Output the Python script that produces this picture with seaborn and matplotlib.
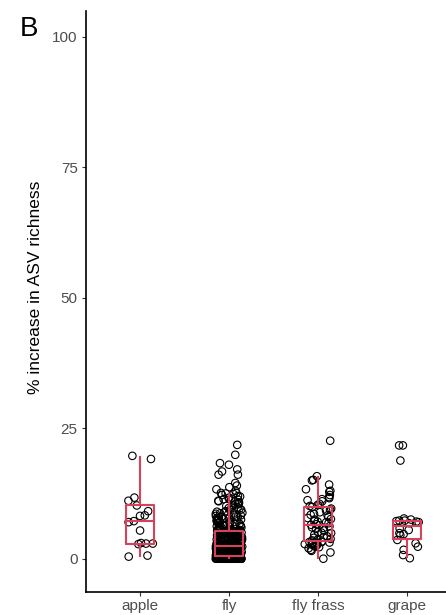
import numpy as np
import pandas as pd
import matplotlib
matplotlib.use("Agg")
import matplotlib.pyplot as plt
import seaborn as sns

# Sample types along the x axis
categories = ["apple", "fly", "fly frass", "grape"]

# % increase in ASV richness per sample, grouped by sample type
apple_vals = [0.4, 0.6, 2.8, 2.9, 2.9, 3.0, 5.4, 7.0, 7.2, 8.2, 8.3, 9.1,
              10.2, 11.1, 11.7, 19.1, 19.7]

fly_vals = [
    0.0, 0.0, 0.0, 0.0, 0.0, 0.0, 0.0, 0.0, 0.0, 0.0,
    0.0, 0.0, 0.0, 0.0, 0.0, 0.0, 0.0, 0.0, 0.0, 0.0,
    0.0, 0.0, 0.0, 0.0, 0.0, 0.0, 0.0, 0.0, 0.0, 0.0,
    0.0, 0.0, 0.0, 0.0, 0.0, 0.0, 0.0, 0.0, 0.0, 0.0,
    0.0, 0.0, 0.0, 0.0, 0.0, 0.0, 0.0, 0.0, 0.0, 0.0,
    0.0, 0.0, 0.0,
    0.1, 0.1, 0.1, 0.2, 0.2, 0.2, 0.2, 0.2, 0.3, 0.3, 0.3,
    0.3, 0.3, 0.3, 0.4, 0.4, 0.4, 0.4, 0.4, 0.4, 0.4, 0.4,
    0.1, 0.1, 0.2, 0.2, 0.3, 0.3, 0.3, 0.4, 0.4, 0.4, 0.4, 0.4,
    0.5, 0.5, 0.5, 0.6, 0.6, 0.7, 0.7, 0.7, 0.8, 0.8, 0.8, 0.9,
    0.9, 0.9, 1.0, 1.0, 1.0, 1.1, 1.1, 1.2, 1.2, 1.2, 1.2, 1.3,
    1.3, 1.4, 1.4, 1.4, 1.5, 1.5, 1.5, 1.6, 1.6, 1.6, 1.7, 1.7,
    1.7, 1.8, 1.8, 1.8, 1.9, 1.9, 1.9, 2.0, 2.0, 2.0, 2.1, 2.1,
    2.1, 2.2, 2.2, 2.2, 2.3, 2.3, 2.3, 2.3, 2.4, 2.4, 2.4, 2.4, 2.4,
    0.5, 0.6, 0.7, 0.8, 0.9, 1.0, 1.1, 1.2, 1.3, 1.4, 1.5, 1.6,
    1.7, 1.8, 1.9, 2.0, 2.1, 2.2, 2.3, 0.6, 0.9, 1.3, 1.7, 2.0, 2.3,
    2.5, 2.5, 2.6, 2.6, 2.7, 2.7, 2.8, 2.8, 2.9, 2.9, 3.0, 3.0,
    3.1, 3.1, 3.2, 3.2, 3.3, 3.3, 3.4, 3.4, 3.5, 3.5, 3.6, 3.6,
    3.7, 3.7, 3.8, 3.8, 3.9, 3.9, 4.0, 4.0, 4.1, 4.1, 4.2, 4.2,
    4.3, 4.3, 4.4, 4.4, 4.5, 4.5, 4.6, 4.6, 4.7, 4.7, 4.8, 4.8,
    4.9, 4.9, 5.0, 5.0, 5.1, 5.1, 5.2, 5.2, 5.3, 5.3, 5.4, 5.4, 5.4, 5.4,
    2.5, 2.7, 2.9, 3.1, 3.3, 3.5, 3.7, 3.9, 4.1, 4.3, 4.5, 4.7,
    4.9, 5.1, 5.3, 2.6, 3.0, 3.4, 3.8, 4.2, 4.6, 5.0, 5.2, 2.8, 3.6,
    5.5, 5.6, 5.7, 5.9, 6.0, 6.1, 6.2, 6.3, 6.5, 6.6, 6.7, 6.8,
    6.9, 7.0, 7.1, 7.3, 7.4, 7.5, 7.6, 7.7, 7.9, 8.0, 8.1, 8.3,
    8.5, 8.6, 8.8, 9.0, 9.1, 9.3, 9.6, 9.8, 10.0, 10.1, 10.4, 10.6,
    10.8, 11.0, 11.1, 11.4, 11.6, 11.7, 12.0, 12.2, 12.4, 12.5, 12.6, 12.6,
    5.6, 5.8, 6.0, 6.3, 6.4, 6.7, 7.0, 7.2, 7.5, 7.8, 8.0, 8.2,
    8.4, 8.7, 9.0, 9.4, 9.7, 10.2, 10.5, 11.0, 11.3, 11.9, 6.1, 6.9, 7.6,
    13.0, 13.3, 13.7, 14.0, 14.5, 16.1, 16.1, 16.7, 17.1, 18.0, 18.3,
    19.9, 21.8,
]

fly_frass_vals = [
    0.0, 1.2, 1.5, 1.7, 2.0, 2.2, 2.3, 2.5, 2.6, 2.7, 2.8, 2.9, 3.0,
    3.1, 3.1, 3.2, 3.2, 3.3, 3.5, 3.6, 3.8, 4.0, 4.1, 4.3, 4.6, 4.9,
    5.0, 5.1, 5.4, 5.7, 5.9, 6.0, 6.2, 6.4, 6.5, 6.6, 6.8, 7.0, 7.1,
    7.3, 7.5, 7.6, 7.8, 8.0, 8.3, 8.4, 8.6, 8.9, 9.2, 9.4, 9.6, 9.9,
    10.1, 10.3, 10.5, 11.0, 11.2, 11.4, 11.6, 11.8, 12.2, 12.8, 13.0,
    13.3, 14.2, 15.0, 15.1, 15.8, 22.6,
]

grape_vals = [0.1, 0.7, 1.7, 2.3, 2.95, 3.6, 4.5, 4.7, 4.9, 5.5, 5.8, 6.8,
              7.0, 7.1, 7.2, 7.3, 7.3, 7.5, 7.7, 18.8, 21.7, 21.7]

y_ticks = [0, 25, 50, 75, 100]

df = pd.DataFrame({
    "sample": (["apple"] * len(apple_vals) + ["fly"] * len(fly_vals)
               + ["fly frass"] * len(fly_frass_vals) + ["grape"] * len(grape_vals)),
    "increase": apple_vals + fly_vals + fly_frass_vals + grape_vals,
})

sns.set_style("ticks")
plt.rcParams["font.family"] = ["Liberation Sans", "DejaVu Sans"]

W, H = 446, 615
fig = plt.figure(figsize=(W / 100, H / 100), dpi=100)
ax = fig.add_axes([86 / W, (H - 591.5) / H, (W - 86) / W, (591.5 - 11) / H])

box_red = "#D9405A"

np.random.seed(7)
sns.stripplot(data=df, x="sample", y="increase", order=categories,
              jitter=0.15, size=5.4, color="black", linewidth=0.8,
              edgecolor="black", ax=ax, zorder=1)
for coll in ax.collections:
    coll.set_facecolor("none")
    coll.set_edgecolor("black")
    coll.set_linewidth(0.8)

sns.boxplot(data=df, x="sample", y="increase", order=categories,
            width=0.31, fill=False, color=box_red, showfliers=False,
            showcaps=False, whis=1.5, linewidth=1.5, ax=ax)
for line in ax.lines:
    line.set_color(box_red)
    line.set_zorder(3)
for p in ax.patches:
    p.set_edgecolor(box_red)
    p.set_zorder(3)

ax.set_xlim(-0.607, 3.438)
ax.set_ylim(-6.28, 104.9)
ax.set_yticks(y_ticks)
ax.set_yticklabels([str(t) for t in y_ticks])

ax.set_xlabel("")
ax.set_ylabel("% increase in ASV richness", fontsize=12.5, color="black",
              va="center", ha="center")
ax.yaxis.set_label_coords((36 - 86) / (W - 86), (591.5 - 287.5) / (591.5 - 11))

for side in ["top", "right"]:
    ax.spines[side].set_visible(False)
for side in ["left", "bottom"]:
    ax.spines[side].set_color("black")
    ax.spines[side].set_linewidth(1.2)

ax.tick_params(axis="both", length=3, width=0.8, color="#333333",
               labelcolor="#4D4D4D", labelsize=11)
ax.tick_params(axis="y", pad=3)
ax.tick_params(axis="x", pad=2.5)
ax.grid(False)
ax.set_facecolor("white")
fig.patch.set_facecolor("white")

fig.text(20 / W, 1 - 16 / H, "B", fontsize=20, ha="left", va="top", color="black")

fig.savefig("out.png", dpi=100, facecolor="white")
